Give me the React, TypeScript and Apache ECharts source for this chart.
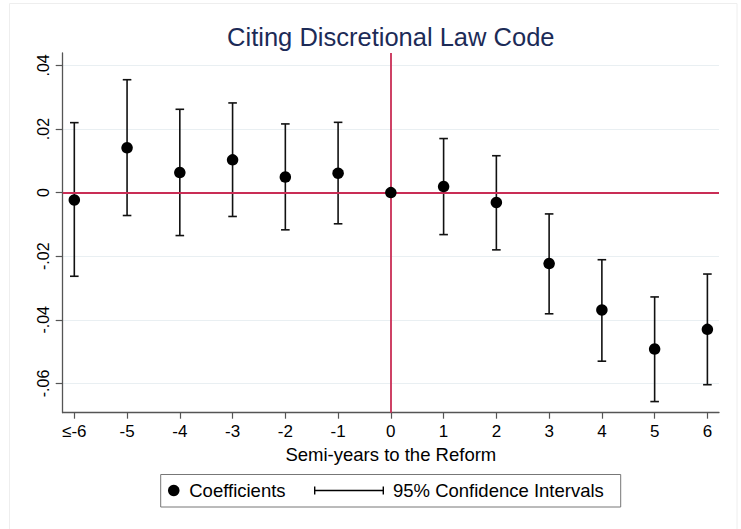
import React, { useEffect, useRef } from "react";
import * as echarts from "echarts";

const categories = ["≤-6", "-5", "-4", "-3", "-2", "-1", "0", "1", "2", "3", "4", "5", "6"];
const xPositions = [-6, -5, -4, -3, -2, -1, 0, 1, 2, 3, 4, 5, 6];
const coefficients = [-0.0023, 0.0141, 0.0063, 0.0103, 0.0049, 0.0061, 0, 0.0019, -0.0031, -0.0223, -0.0369, -0.0492, -0.043];
const ciLower = [-0.0263, -0.0072, -0.0135, -0.0075, -0.0117, -0.0098, null, -0.0132, -0.018, -0.0381, -0.053, -0.0657, -0.0604];
const ciUpper = [0.022, 0.0355, 0.0262, 0.0282, 0.0216, 0.0221, null, 0.017, 0.0116, -0.0067, -0.0211, -0.0328, -0.0256];
const yTicks = [-0.06, -0.04, -0.02, 0, 0.02, 0.04];
const yTickLabels = ["-.06", "-.04", "-.02", "0", ".02", ".04"];

const FONT = "'Liberation Sans', Arial, Helvetica, sans-serif";
const RED = "#c92d55";

export default function App() {
  const ref = useRef<HTMLDivElement>(null);
  useEffect(() => {
    if (!ref.current) return;
    const chart = echarts.init(ref.current, null, { renderer: "svg" });

    const pointData = xPositions.map((x, i) => [x, coefficients[i]]);
    const ciData = xPositions
      .map((x, i) => [x, ciLower[i], ciUpper[i]])
      .filter((d) => d[1] !== null && d[2] !== null);

    const option: any = {
      animation: false,
      backgroundColor: "#ffffff",
      textStyle: { fontFamily: FONT },
      grid: { left: 62.7, right: 22, top: 53, bottom: 116.3, containLabel: false, outerBoundsMode: "none" },
      xAxis: {
        type: "value",
        min: -6.22,
        max: 6.22,
        name: "Semi-years to the Reform",
        nameLocation: "middle",
        nameGap: 29,
        nameTextStyle: { fontSize: 18.5, color: "#000", fontFamily: FONT },
        axisLine: { show: true, onZero: false, lineStyle: { color: "#555", width: 1.3 } },
        axisTick: { show: true, length: 6, customValues: xPositions, lineStyle: { color: "#555", width: 1.2 } },
        axisLabel: {
          customValues: xPositions,
          fontSize: 17,
          color: "#000",
          fontFamily: FONT,
          margin: 10,
          formatter: (v: number) => categories[xPositions.indexOf(Math.round(v))] ?? "",
        },
        splitLine: { show: false },
      },
      yAxis: {
        type: "value",
        min: -0.0692,
        max: 0.0439,
        axisLine: { show: true, onZero: false, lineStyle: { color: "#555", width: 1.3 } },
        axisTick: { show: true, length: 7, customValues: yTicks, lineStyle: { color: "#555", width: 1.2 } },
        axisLabel: {
          customValues: yTicks,
          rotate: 90,
          fontSize: 16,
          color: "#000",
          fontFamily: FONT,
          margin: 11,
          formatter: (v: number) => {
            const i = yTicks.findIndex((t) => Math.abs(t - v) < 1e-6);
            return i >= 0 ? yTickLabels[i] : "";
          },
        },
        splitLine: { show: true, lineStyle: { color: "#e9eff2", width: 1 } },
      },
      legend: [
        {
          data: [{ name: "Coefficients", icon: "circle", itemStyle: { color: "#000" } }],
          left: 168,
          top: 481,
          padding: 0,
          itemWidth: 21,
          itemHeight: 11.5,
          selectedMode: false,
          textStyle: { fontSize: 18.5, color: "#000", fontFamily: FONT },
        },
        {
          data: [
            {
              name: "95% Confidence Intervals",
              icon: "path://M0,0 L1.4,0 L1.4,3.3 L68.6,3.3 L68.6,0 L70,0 L70,8 L68.6,8 L68.6,4.7 L1.4,4.7 L1.4,8 L0,8 Z",
              itemStyle: { color: "#000" },
            },
          ],
          left: 314,
          top: 481,
          padding: 0,
          itemWidth: 78,
          itemHeight: 8,
          selectedMode: false,
          textStyle: { fontSize: 18.5, color: "#000", fontFamily: FONT },
        },
      ],
      graphic: [
        {
          type: "rect",
          shape: { x: 9.5, y: 3.5, width: 727.5, height: 560 },
          style: { fill: "none", stroke: "#eeeeee", lineWidth: 1 },
          silent: true,
        },
        {
          type: "text",
          x: 390.8,
          y: 37,
          style: {
            text: "Citing Discretional Law Code",
            font: `25.5px ${FONT}`,
            fill: "#1c2b57",
            textAlign: "center",
            textVerticalAlign: "middle",
          },
        },
        {
          type: "rect",
          shape: { x: 160.7, y: 474.5, width: 460, height: 32.5 },
          style: { fill: "none", stroke: "#777", lineWidth: 1 },
          silent: true,
        },
      ],
      series: [
        {
          name: "reference lines",
          type: "line",
          data: [],
          silent: true,
          z: 1,
          markLine: {
            silent: true,
            symbol: ["none", "none"],
            label: { show: false },
            lineStyle: { color: RED, width: 1.8, type: "solid" },
            data: [{ yAxis: 0 }, { xAxis: 0 }],
          },
        },
        {
          name: "95% Confidence Intervals",
          type: "custom",
          data: ciData,
          itemStyle: { color: "#000" },
          encode: { x: 0, y: [1, 2] },
          z: 2,
          renderItem: (params: any, api: any) => {
            const x = api.value(0);
            const lo = api.coord([x, api.value(1)]);
            const hi = api.coord([x, api.value(2)]);
            const hw = 4.3;
            const style = { stroke: "#111", lineWidth: 1.6 };
            return {
              type: "group",
              children: [
                { type: "line", shape: { x1: lo[0], y1: lo[1], x2: hi[0], y2: hi[1] }, style },
                { type: "line", shape: { x1: lo[0] - hw, y1: lo[1], x2: lo[0] + hw, y2: lo[1] }, style },
                { type: "line", shape: { x1: hi[0] - hw, y1: hi[1], x2: hi[0] + hw, y2: hi[1] }, style },
              ],
            };
          },
        },
        {
          name: "Coefficients",
          type: "scatter",
          data: pointData,
          symbol: "circle",
          symbolSize: 11.5,
          itemStyle: { color: "#000", opacity: 1 },
          z: 5,
        },
      ],
    };
    chart.setOption(option);
    return () => chart.dispose();
  }, []);
  return (
    <div
      ref={ref}
      style={{ position: "absolute", left: 0, top: 0, width: 741, height: 529 }}
    />
  );
}
